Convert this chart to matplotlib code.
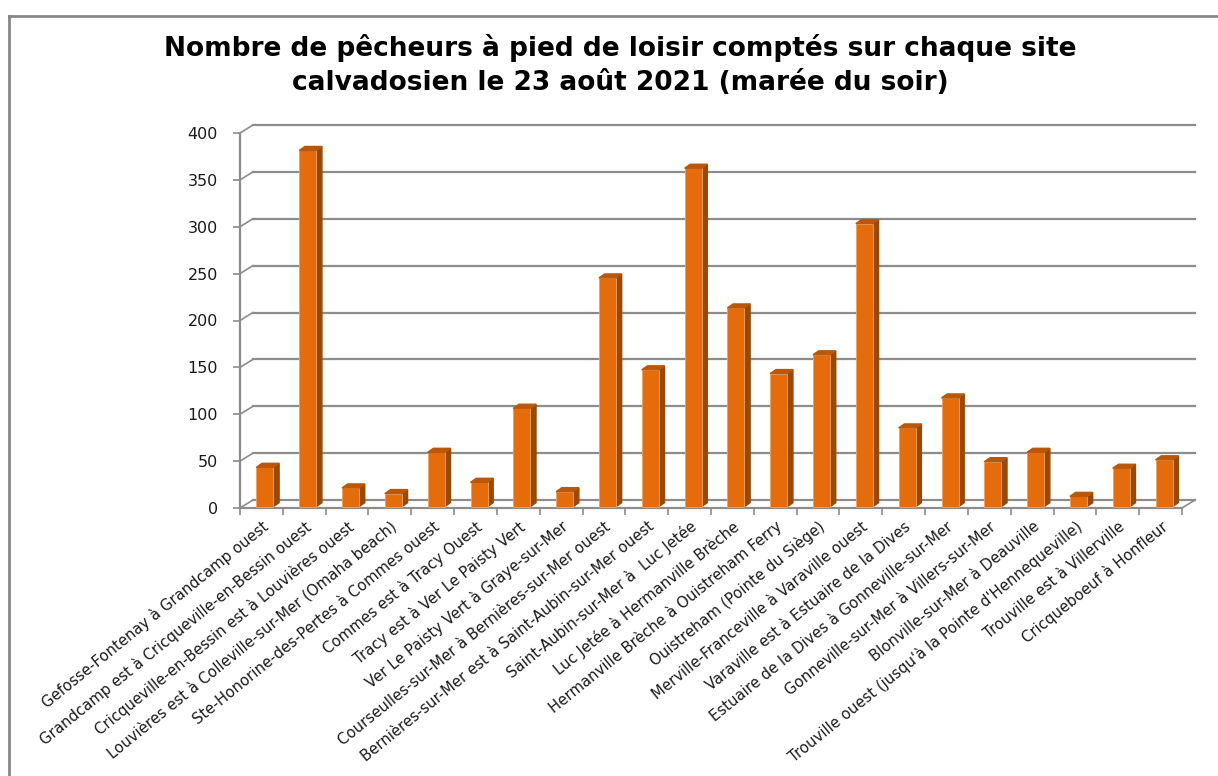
import numpy as np
import matplotlib
matplotlib.use('Agg')
import matplotlib.pyplot as plt
from matplotlib.patches import Polygon
from matplotlib.lines import Line2D
from matplotlib.transforms import ScaledTranslation

plt.rcParams['font.family'] = ['DejaVu Sans']

sites = [
    "Gefosse-Fontenay à Grandcamp ouest",
    "Grandcamp est à Cricqueville-en-Bessin ouest",
    "Cricqueville-en-Bessin est à Louvières ouest",
    "Louvières est à Colleville-sur-Mer (Omaha beach)",
    "Ste-Honorine-des-Pertes à Commes ouest",
    "Commes est à Tracy Ouest",
    "Tracy est à Ver Le Paisty Vert",
    "Ver Le Paisty Vert à Graye-sur-Mer",
    "Courseulles-sur-Mer à Bernières-sur-Mer ouest",
    "Bernières-sur-Mer est à Saint-Aubin-sur-Mer ouest",
    "Saint-Aubin-sur-Mer à  Luc Jetée",
    "Luc Jetée à Hermanville Brèche",
    "Hermanville Brèche à Ouistreham Ferry",
    "Ouistreham (Pointe du Siège)",
    "Merville-Franceville à Varaville ouest",
    "Varaville est à Estuaire de la Dives",
    "Estuaire de la Dives à Gonneville-sur-Mer",
    "Gonneville-sur-Mer à Villers-sur-Mer",
    "Blonville-sur-Mer à Deauville",
    "Trouville ouest (jusqu'à la Pointe d'Hennequeville)",
    "Trouville est à Villerville",
    "Cricqueboeuf à Honfleur",
]
pecheurs = [42, 380, 20, 14, 58, 26, 105, 16, 244, 146, 361, 212,
            142, 162, 302, 84, 116, 48, 58, 11, 41, 50]
yticks = [0, 50, 100, 150, 200, 250, 300, 350, 400]

W, H = 1218, 776
fig = plt.figure(figsize=(W / 100, H / 100), dpi=100)
ax = fig.add_axes([240 / W, (H - 508) / H, 942 / W, 375 / H])
n = len(sites)
ax.set_xlim(-0.5, n - 0.5)
ax.set_ylim(0, 400)

# pixel -> data conversions for the fake 3d
px_x = n / 942.0
px_y = 400 / 375.0
DX, DY = 13 * px_x, 8 * px_y          # back wall offset
sdx, sdy = 5.7 * px_x, 4 * px_y       # bar depth
base = 1.4
off = 3.5 * px_x
bw = 17 * px_x

grid_c = '#8c8c8c'
for y in yticks:
    ax.add_line(Line2D([-0.5 + DX, n - 0.5 + DX], [y + DY, y + DY], color=grid_c, lw=1.6, clip_on=False, zorder=1))
    ax.add_line(Line2D([-0.5, -0.5 + DX], [y, y + DY], color=grid_c, lw=1.2, clip_on=False, zorder=1))
ax.add_line(Line2D([n - 0.5, n - 0.5 + DX], [0, DY], color=grid_c, lw=1.2, clip_on=False, zorder=1))

x = np.arange(n)
bars = ax.bar(x + off, np.array(pecheurs), width=bw, bottom=base, color='#e46c0a',
              edgecolor='#f2a25e', linewidth=0.6, zorder=3)
for b in bars:
    x0 = b.get_x()
    x1 = x0 + b.get_width()
    top = b.get_y() + b.get_height()
    ax.add_patch(Polygon([(x1, base), (x1, top), (x1 + sdx, top + sdy), (x1 + sdx, base + sdy)],
                         closed=True, color='#9a4806', zorder=2.9))
    ax.add_patch(Polygon([(x0, top), (x1, top), (x1 + sdx, top + sdy), (x0 + sdx, top + sdy)],
                         closed=True, color='#b9580a', zorder=3.1))

for s in ['top', 'right']:
    ax.spines[s].set_visible(False)
for s in ['left', 'bottom']:
    ax.spines[s].set_color(grid_c)
    ax.spines[s].set_linewidth(1.6)

ax.set_yticks(yticks)
ax.set_yticklabels([str(v) for v in yticks], fontsize=11.5, color='#1a1a1a')
ax.tick_params(axis='y', length=5, width=1.2, color=grid_c, pad=11)

ax.set_xticks(x)
ax.set_xticks(np.arange(n + 1) - 0.5, minor=True)
ax.set_xticklabels(sites, rotation=39, ha='right', va='center', rotation_mode='anchor',
                   fontsize=10.7, color='#1a1a1a')
ax.tick_params(axis='x', which='major', length=0, pad=12)
ax.tick_params(axis='x', which='minor', length=5, width=1.2, color=grid_c)
for lab in ax.get_xticklabels():
    lab.set_transform(lab.get_transform() + ScaledTranslation(0.05, 0, fig.dpi_scale_trans))

ax.patch.set_visible(False)

fig.text(620 / W, 1 - 65.5 / H,
         "Nombre de pêcheurs à pied de loisir comptés sur chaque site\ncalvadosien le 23 août 2021 (marée du soir)",
         ha='center', va='center', fontsize=19, fontweight='bold', linespacing=1.4, color='#000000')

# chart frame
fig.add_artist(Line2D([9 / W, 9 / W], [0, 1 - 16 / H], color='#888888', lw=2, transform=fig.transFigure))
fig.add_artist(Line2D([9 / W, 1], [1 - 16 / H, 1 - 16 / H], color='#888888', lw=2, transform=fig.transFigure))

fig.savefig('out.png', dpi=100)
